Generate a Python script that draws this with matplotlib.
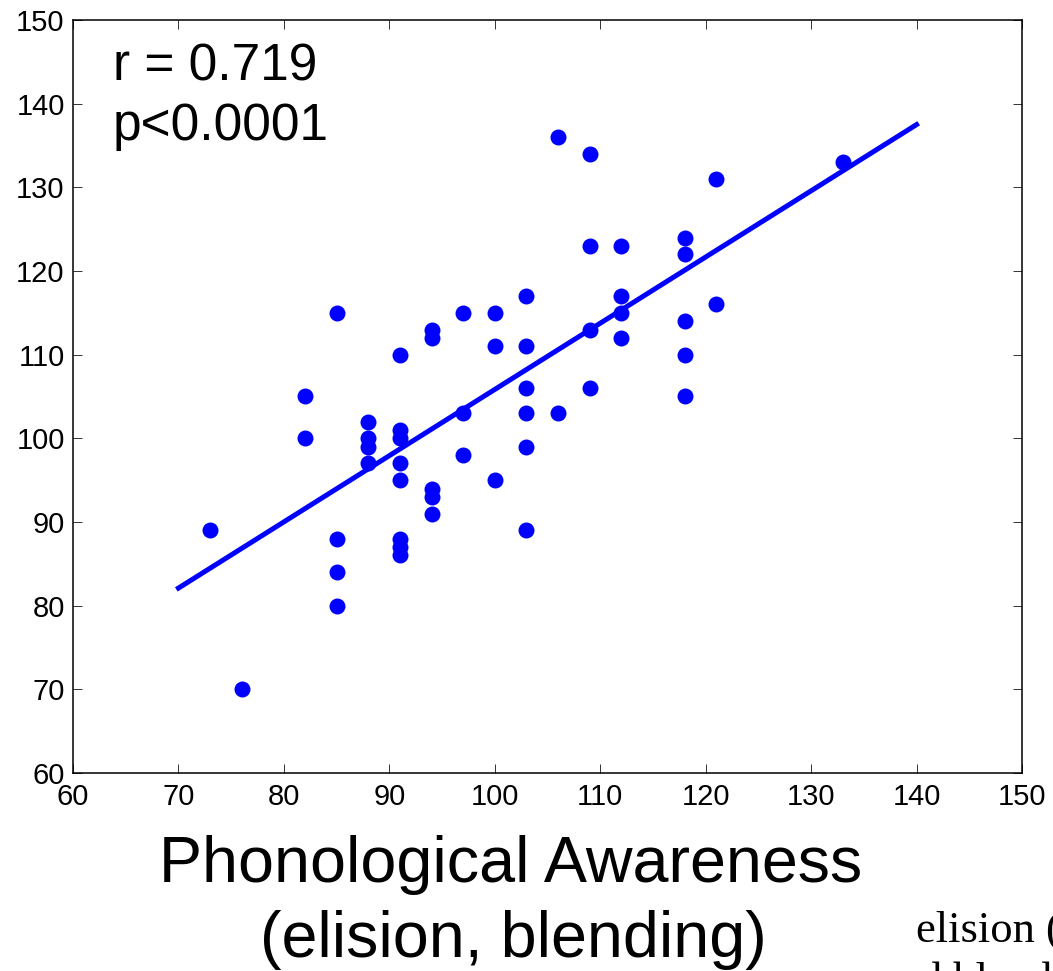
import numpy as np
import matplotlib
matplotlib.use("Agg")
import matplotlib.pyplot as plt

plt.rcParams['font.family'] = ['Liberation Sans', 'DejaVu Sans']

# scores (phonological awareness vs. reading score)
pa_score = [73, 76, 82, 82, 85, 85, 85, 85,
            88, 88, 88, 88,
            91, 91, 91, 91, 91, 91, 91, 91,
            94, 94, 94, 94, 94,
            97, 97, 97, 100, 100, 100,
            103, 103, 103, 103, 103, 103,
            106, 106, 109, 109, 109, 109,
            112, 112, 112, 112,
            118, 118, 118, 118, 118,
            121, 121, 133]
read_score = [89, 70, 105, 100, 115, 88, 84, 80,
              102, 100, 99, 97,
              110, 101, 100, 97, 95, 88, 87, 86,
              113, 112, 94, 93, 91,
              115, 103, 98, 115, 111, 95,
              117, 111, 106, 103, 99, 89,
              136, 103, 134, 123, 113, 106,
              123, 117, 115, 112,
              124, 122, 114, 110, 105,
              131, 116, 133]

# regression line end points
fit_x = [70, 140]
fit_y = [82.1, 137.5]

ticks = list(range(60, 151, 10))

fig = plt.figure(figsize=(10.53, 9.71), dpi=100)
ax = fig.add_axes([73 / 1053, 1 - 773 / 971, 949 / 1053, 753 / 971])

ax.plot(pa_score, read_score, 'o', color=(0, 0, 1), markersize=11.5,
        markeredgewidth=0)
ax.plot(fit_x, fit_y, '-', color=(0, 0, 1), linewidth=3.6)

ax.set_xlim(60, 150)
ax.set_ylim(60, 150)
ax.set_xticks(ticks)
ax.set_yticks(ticks)
ax.tick_params(direction='in', top=True, right=True, length=6.5, width=0.7,
               labelsize=21, color='#333333')
ax.tick_params(axis='x', pad=7)
ax.tick_params(axis='y', pad=6)
for s in ax.spines.values():
    s.set_linewidth(1.1)

ax.text(0.042, 0.920, "r = 0.719", transform=ax.transAxes, fontsize=37,
        va='baseline', ha='left')
ax.text(0.042, 0.840, "p<0.0001", transform=ax.transAxes, fontsize=37,
        va='baseline', ha='left')

fig.text(511 / 1053, 1 - 882 / 971, "Phonological Awareness", fontsize=46.5,
         ha='center', va='baseline')
fig.text(513 / 1053, 1 - 957 / 971, "(elision, blending)", fontsize=46.5,
         ha='center', va='baseline')

# cut-off caption text at the bottom right (cropped in the source too)
fig.text(916 / 1053, 1 - 942 / 971, "elision (deletion)", fontsize=32,
         family='Liberation Serif', ha='left', va='baseline')
fig.text(878 / 1053, 1 - 993 / 971, "and blending", fontsize=32,
         family='Liberation Serif', ha='left', va='baseline')

fig.savefig("out.png", dpi=100)
